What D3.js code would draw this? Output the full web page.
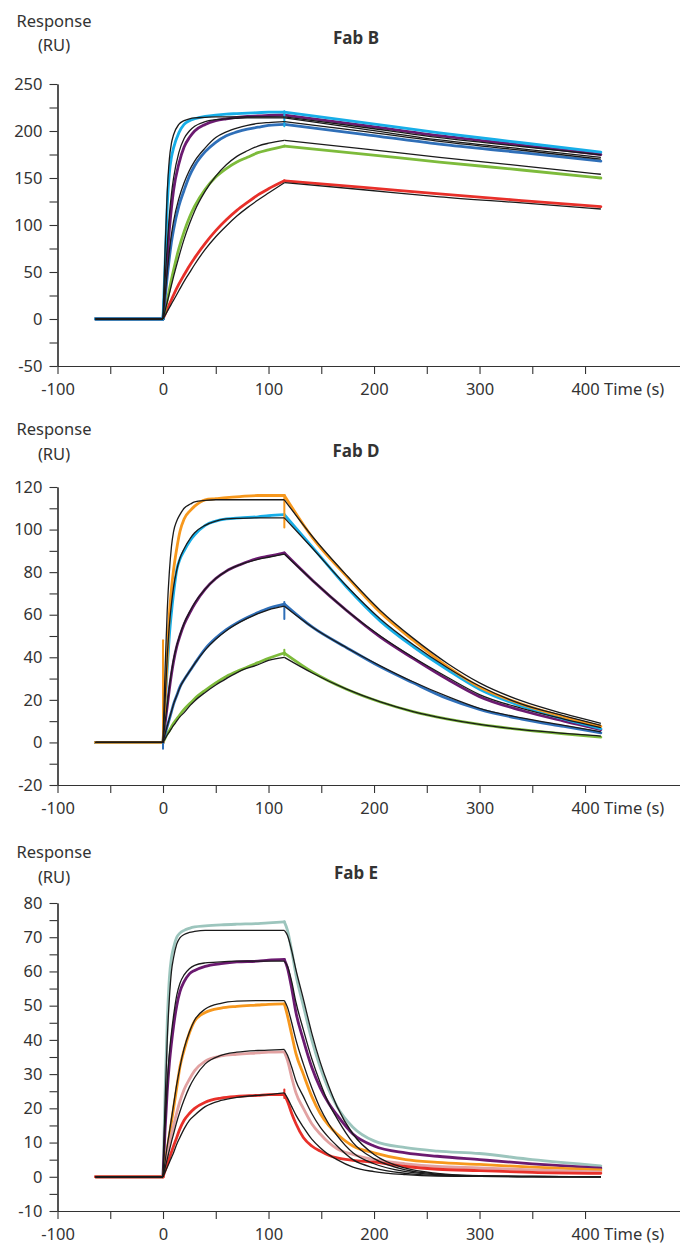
<!DOCTYPE html>
<html>
<head>
<meta charset="utf-8">
<script src="https://cdn.jsdelivr.net/npm/d3@7"></script>
<style>
html,body{margin:0;padding:0;background:#fff;}
svg{display:block;}
text{font-family:"Noto Sans",sans-serif;fill:#333;}
</style>
</head>
<body>
<svg id="chart" width="680" height="1247"></svg>
<script>
// ---------- shared axis data ----------
const xMajor = [-100, 0, 100, 200, 300, 400];
const xMinor = [-50, 50, 150, 250, 350];
const baseT = [-64, 0];
const baseV = [0, 0];

// ---------- Fab B ----------
const B_assocT = [0, 2, 4, 6, 8, 10, 15, 20, 25, 30, 40, 50, 60, 70, 80, 90, 100, 115];
const B_dissocT = [115, 190, 262, 340, 415];
const B_cyan_a     = [0, 60, 120, 155, 172, 182, 198, 207, 211, 213, 215.5, 217, 218, 218.5, 219, 219.5, 220, 220];
const B_cyanFit_a  = [0, 75, 135, 170, 187, 196, 207, 211, 213, 214, 214.5, 215, 215, 215, 215, 215, 215, 215];
const B_purple_a   = [0, 35, 65, 95, 118, 137, 165, 183, 193, 200, 207, 211, 213, 214.5, 215.5, 216, 216.5, 217];
const B_purpleFit_a= [0, 42, 78, 110, 133, 150, 177, 192, 200, 205, 210, 212, 213, 213.5, 214, 214, 214, 214];
const B_blue_a     = [0, 22, 45, 65, 82, 95, 120, 137, 152, 163, 178, 188, 195, 199, 202, 204, 206, 207];
const B_blueFit_a  = [0, 25, 50, 72, 90, 104, 128, 145, 158, 168, 182, 193, 199, 203, 206, 208, 209, 210];
const B_green_a    = [0, 10, 20, 31, 42, 52, 75, 93, 108, 120, 138, 151, 160, 167, 172, 177, 180, 184];
const B_greenFit_a = [0, 9, 18, 27, 36, 45, 66, 85, 101, 115, 136, 152, 164, 173, 179, 184, 187, 190];
const B_red_a      = [0, 5, 10.5, 15.5, 20.5, 25.5, 37, 47, 56.5, 65, 80.5, 94, 105.5, 115.5, 124, 132, 138.5, 147];
const B_redFit_a   = [0, 4, 8, 12, 16, 20, 30, 40, 49, 58, 74, 87.5, 99, 109.5, 118.5, 126.5, 134, 145];
const B_cyan_d      = [220, 209, 198, 187.5, 177.5];
const B_cyanFit_d   = [215, 204, 193, 183.5, 174.5];
const B_purple_d    = [217, 206, 195, 185, 175];
const B_purpleFit_d = [214, 202, 190.5, 181, 172];
const B_blue_d      = [207, 196.5, 186, 177, 168];
const B_blueFit_d   = [210, 199.5, 189, 179.5, 170];
const B_green_d     = [184, 175.5, 167, 158.5, 150];
const B_greenFit_d  = [190, 181, 172, 163, 154];
const B_red_d       = [147, 140, 133, 126, 119.5];
const B_redFit_d    = [145, 137.5, 130, 123.5, 117];
const B_spikes = [["#17aee8", 115, 205, 221]];

// ---------- Fab D ----------
const D_assocT = [0, 2, 4, 6, 8, 10, 13, 16, 20, 26, 30, 40, 50, 60, 73, 90, 100, 115];
const D_dissocT = [115, 142, 174, 206, 237, 270, 300, 340, 380, 415];
const D_orange_a     = [0, 20, 40, 60, 72, 81, 91, 99, 105, 109, 111, 114, 114.5, 115, 115.5, 116, 116, 116];
const D_orangeFit_a  = [0, 35, 62, 80, 92, 99, 104, 107, 110, 112, 113, 113.7, 114, 114, 114, 114, 114, 114];
const D_cyan_a       = [0, 17, 35, 50, 61, 70, 81, 86, 90, 95, 97.5, 102, 104, 105, 105.5, 106, 106.5, 107];
const D_cyanFit_a    = [0, 20, 40, 55, 65, 73, 81, 86.5, 91, 96, 98.5, 102, 104, 105, 105.3, 105.5, 105.5, 105.5];
const D_purple_a     = [0, 9, 17, 25, 32, 38, 45, 50, 55.5, 61.5, 65, 72, 77, 80.5, 83.5, 86.5, 87.5, 89];
const D_purpleFit_a  = [0, 9.5, 18, 26, 33, 39, 45.5, 50.5, 56, 62, 65.5, 72, 77, 80.5, 83.5, 86, 87, 88.5];
const D_blue_a       = [0, 4, 7.5, 11, 14.5, 18, 22, 26, 29.5, 34, 37, 44, 49, 53, 57, 61, 63, 65];
const D_blueFit_a    = [0, 4, 7.7, 11.2, 14.6, 18, 22, 25.8, 29.5, 34, 37, 43.5, 48.5, 52.5, 56.5, 60.5, 62.3, 64];
const D_green_a      = [0, 2, 4, 5.5, 7.3, 9, 11, 13, 15.5, 18.5, 20.5, 24.5, 28, 31, 34, 37.5, 39.5, 42];
const D_greenFit_a   = [0, 1.8, 3.5, 5, 6.5, 8, 10, 12, 14, 17.5, 19.5, 23.5, 27, 30, 33.5, 36.5, 38.5, 40];
const D_orange_d     = [116, 96, 78, 61, 48, 35.5, 26, 18, 12, 7.5];
const D_orangeFit_d  = [114, 96.5, 78.5, 62, 49, 37, 28, 19.5, 13.5, 9];
const D_cyan_d       = [107, 91.5, 73, 57, 45, 34, 25, 17, 11, 6.5];
const D_cyanFit_d    = [105.5, 91, 73.5, 58, 46, 35, 26.5, 18, 12.5, 8];
const D_purple_d     = [89, 76, 62, 49.5, 39.5, 29.5, 21.5, 15, 10, 6];
const D_purpleFit_d  = [88.5, 76, 62, 50, 40, 30.5, 22.5, 16, 11, 7];
const D_blue_d       = [65, 54, 44.5, 35.5, 28, 20.5, 15.5, 11, 7.5, 4.5];
const D_blueFit_d    = [64, 54, 44.5, 36, 28.5, 21.5, 16, 11.5, 8, 5];
const D_green_d      = [42, 33, 25, 19, 14.5, 11, 8.5, 6, 4, 2.5];
const D_greenFit_d   = [40, 32.5, 25, 19, 14.5, 11, 8.5, 6, 4.3, 3];
const D_spikes = [["#f7981d", 0, 0, 48], ["#2f6fb8", 0, -3, 0], ["#f7981d", 115, 101, 116], ["#2f6fb8", 115, 58, 66], ["#7dbb3b", 115, 41, 43.5]];

// ---------- Fab E ----------
const E_assocT = [0, 2, 4, 6, 8, 10, 13, 16, 20, 25, 30, 40, 55, 70, 90, 100, 115];
const E_dissocT = [115, 118, 122, 126, 133, 141, 149, 157, 165, 180, 200, 230, 260, 300, 350, 415];
const E_teal_a       = [0, 25, 45, 58, 64, 67, 70, 71.2, 72, 72.6, 73, 73.3, 73.6, 73.8, 74, 74.2, 74.5];
const E_tealFit_a    = [0, 22, 40, 52, 60, 64, 68, 69.8, 70.8, 71.4, 71.7, 72, 72, 72, 72, 72, 72];
const E_purple_a     = [0, 14, 25, 33, 39, 44, 50, 54, 57, 59.3, 60.3, 61.5, 62.3, 62.8, 63, 63.3, 63.5];
const E_purpleFit_a  = [0, 15, 27, 36, 42, 47, 53, 56.5, 59, 60.8, 61.8, 62.5, 62.8, 63, 63, 63, 63];
const E_orange_a     = [0, 4, 8, 12, 16, 20, 26, 32, 37, 42, 45.5, 48, 49.3, 49.8, 50.2, 50.4, 50.5];
const E_orangeFit_a  = [0, 4.5, 9, 13, 17, 21, 27, 32, 37.5, 42.3, 45.8, 49, 50.7, 51.3, 51.5, 51.5, 51.5];
const E_pink_a       = [0, 3.2, 6.5, 9.5, 12.3, 15, 18.7, 22, 25.5, 28.5, 31, 33.8, 35.3, 35.8, 36.2, 36.4, 36.5];
const E_pinkFit_a    = [0, 2.6, 5.2, 7.7, 10.2, 12.5, 16, 19, 22.5, 26.2, 29, 33, 35.5, 36.4, 36.9, 37, 37.2];
const E_red_a        = [0, 1.8, 3.6, 5.4, 7.2, 9, 11.5, 14, 16.5, 18.5, 20, 21.8, 23, 23.5, 23.8, 24, 24];
const E_redFit_a     = [0, 1.4, 2.8, 4.2, 5.6, 7, 9.5, 11.5, 14, 16.5, 18, 20.5, 22.3, 23.2, 23.8, 24, 24.5];
const E_teal_d       = [74.5, 72, 66, 59, 50, 40, 32, 25.5, 20.5, 14.5, 10.5, 8.5, 7.5, 6.8, 5, 3.2];
const E_tealFit_d    = [72, 70.5, 66, 60.5, 52, 42, 33.5, 26.5, 20.5, 12.5, 6.5, 2.5, 1, 0.3, 0.1, 0];
const E_purple_d     = [63.5, 61, 55, 48, 40, 32, 26, 21.5, 18, 12.5, 9, 7, 6, 5, 3.8, 2.5];
const E_purpleFit_d  = [63, 61.5, 57, 51, 43, 34.5, 27.5, 21.5, 17, 10, 5.3, 2, 0.8, 0.3, 0.1, 0];
const E_orange_d     = [50.5, 47, 41.5, 36, 30, 23.5, 18.5, 15, 12.5, 9, 7, 5, 4.2, 3.6, 2.8, 2];
const E_orangeFit_d  = [51.5, 49.5, 45, 40, 33, 26, 20, 15.5, 12, 7, 3.8, 1.5, 0.6, 0.2, 0.1, 0];
const E_pink_d       = [36.5, 34, 29, 24.5, 20, 15.5, 12.5, 10, 8.2, 6.5, 5, 3.8, 3, 2.6, 2, 1.4];
const E_pinkFit_d    = [37.2, 35.5, 32, 28, 23.5, 18.5, 14.5, 11.5, 9, 5, 2.6, 1, 0.4, 0.1, 0, 0];
const E_red_d        = [24, 22, 18.5, 15.5, 11.5, 9, 7.5, 6.3, 5.5, 4.8, 4.3, 3, 2.2, 1.8, 1.3, 1];
const E_redFit_d     = [24.5, 23, 20.5, 18, 14.5, 11, 8.5, 6.5, 5, 2.8, 1.5, 0.6, 0.2, 0.1, 0, 0];
const E_spikes = [["#e8302a", 115, 23, 25.5]];

// ---------- colours ----------
const C = {
  cyan: "#17aee8", purple: "#6b1a70", blue: "#2f6fb8", green: "#7dbb3b",
  red: "#e8302a", orange: "#f7981d", teal: "#9cc5bd", pink: "#e2a2a2"
};

const panels = [
  {title: "Fab B", titleY: 44, respY: 27, ruY: 51,
   yDomain: [-50, 250], yRange: [366, 84],
   yMajor: [-50, 0, 50, 100, 150, 200, 250], yMinor: [-25, 25, 75, 125, 175, 225],
   aT: B_assocT, dT: B_dissocT, spikes: B_spikes,
   series: [
     [C.red, B_red_a, B_red_d, B_redFit_a, B_redFit_d],
     [C.green, B_green_a, B_green_d, B_greenFit_a, B_greenFit_d],
     [C.blue, B_blue_a, B_blue_d, B_blueFit_a, B_blueFit_d],
     [C.purple, B_purple_a, B_purple_d, B_purpleFit_a, B_purpleFit_d],
     [C.cyan, B_cyan_a, B_cyan_d, B_cyanFit_a, B_cyanFit_d]
   ]},
  {title: "Fab D", titleY: 457, respY: 435, ruY: 460,
   yDomain: [-20, 120], yRange: [785, 487],
   yMajor: [-20, 0, 20, 40, 60, 80, 100, 120], yMinor: [-10, 10, 30, 50, 70, 90, 110],
   aT: D_assocT, dT: D_dissocT, spikes: D_spikes,
   series: [
     [C.green, D_green_a, D_green_d, D_greenFit_a, D_greenFit_d],
     [C.blue, D_blue_a, D_blue_d, D_blueFit_a, D_blueFit_d],
     [C.purple, D_purple_a, D_purple_d, D_purpleFit_a, D_purpleFit_d],
     [C.cyan, D_cyan_a, D_cyan_d, D_cyanFit_a, D_cyanFit_d],
     [C.orange, D_orange_a, D_orange_d, D_orangeFit_a, D_orangeFit_d]
   ]},
  {title: "Fab E", titleY: 879, respY: 858, ruY: 883,
   yDomain: [-10, 80], yRange: [1211, 903],
   yMajor: [-10, 0, 10, 20, 30, 40, 50, 60, 70, 80], yMinor: [-5, 5, 15, 25, 35, 45, 55, 65, 75],
   aT: E_assocT, dT: E_dissocT, spikes: E_spikes,
   series: [
     [C.teal, E_teal_a, E_teal_d, E_tealFit_a, E_tealFit_d],
     [C.purple, E_purple_a, E_purple_d, E_purpleFit_a, E_purpleFit_d],
     [C.orange, E_orange_a, E_orange_d, E_orangeFit_a, E_orangeFit_d],
     [C.pink, E_pink_a, E_pink_d, E_pinkFit_a, E_pinkFit_d],
     [C.red, E_red_a, E_red_d, E_redFit_a, E_redFit_d]
   ]}
];

const svg = d3.select("#chart");
const x = d3.scaleLinear().domain([-100, 490]).range([57.5, 680]);
const FS = "16.5px";
const plainFmt = d => String(d);   // plain hyphen-minus like the reference

panels.forEach(p => {
  const y = d3.scaleLinear().domain(p.yDomain).range(p.yRange);
  const g = svg.append("g");
  const zip = (ts, vs) => ts.map((t, i) => [t, vs[i]]);
  const line = d3.line().x(d => x(d[0])).y(d => y(d[1])).curve(d3.curveMonotoneX);
  const lin = d3.line().x(d => x(d[0])).y(d => y(d[1]));

  // axes
  const yAxisMinor = d3.axisLeft(y).tickValues(p.yMinor).tickSize(8).tickFormat("").tickSizeOuter(0);
  const yAxis = d3.axisLeft(y).tickValues(p.yMajor).tickSize(8).tickPadding(7).tickSizeOuter(0).tickFormat(plainFmt);
  const xAxisMinor = d3.axisBottom(x).tickValues(xMinor).tickSize(8).tickFormat("").tickSizeOuter(0);
  const xAxis = d3.axisBottom(x).tickValues(xMajor).tickSize(8).tickPadding(9).tickSizeOuter(0).tickFormat(plainFmt);
  const ax = [
    g.append("g").attr("transform", `translate(${x(-100)},0)`).call(yAxisMinor),
    g.append("g").attr("transform", `translate(${x(-100)},0)`).call(yAxis),
    g.append("g").attr("transform", `translate(0,${y(p.yDomain[0])})`).call(xAxisMinor),
    g.append("g").attr("transform", `translate(0,${y(p.yDomain[0])})`).call(xAxis)
  ];
  ax.forEach(a => {
    a.selectAll("path.domain").attr("stroke", "#333").attr("stroke-width", 1.2);
    a.selectAll(".tick line").attr("stroke", "#333").attr("stroke-width", 1.1);
    a.selectAll(".tick text").style("font-family", '"Noto Sans",sans-serif').style("font-size", FS).attr("fill", "#333");
  });
  g.append("text").attr("x", x(400) + 19).attr("y", y(p.yDomain[0]) + 8 + 9).attr("dy", "0.71em")
    .style("font-size", FS).text("Time (s)");

  // labels
  g.append("text").attr("x", 54).attr("y", p.respY).attr("text-anchor", "middle").style("font-size", FS).text("Response");
  g.append("text").attr("x", 54).attr("y", p.ruY).attr("text-anchor", "middle").style("font-size", FS).text("(RU)");
  g.append("text").attr("x", 356).attr("y", p.titleY).attr("text-anchor", "middle")
    .style("font-size", "17px").style("font-weight", "bold").attr("fill", "#222").text(p.title);

  // data curves
  const dataG = g.append("g").attr("fill", "none").attr("stroke-linecap", "round").attr("stroke-linejoin", "round");
  p.series.forEach(s => {
    const [col, a, d] = s;
    dataG.append("path").attr("d", lin(zip(baseT, baseV))).attr("stroke", col).attr("stroke-width", 2.8);
    dataG.append("path").attr("d", line(zip(p.aT, a))).attr("stroke", col).attr("stroke-width", 2.8);
    dataG.append("path").attr("d", line(zip(p.dT, d))).attr("stroke", col).attr("stroke-width", 2.8);
  });
  p.spikes.forEach(sp => {
    dataG.append("path").attr("d", lin([[sp[1], sp[2]], [sp[1], sp[3]]])).attr("stroke", sp[0]).attr("stroke-width", 2);
  });
  // fitted curves
  const fitG = g.append("g").attr("fill", "none").attr("stroke", "#1a1a1a").attr("stroke-width", 1.3).attr("stroke-linejoin", "round");
  p.series.forEach(s => {
    const [, , , fa, fd] = s;
    fitG.append("path").attr("d", lin(zip(baseT, baseV)));
    fitG.append("path").attr("d", line(zip(p.aT, fa)));
    fitG.append("path").attr("d", line(zip(p.dT, fd)));
  });
});
</script>
</body>
</html>
